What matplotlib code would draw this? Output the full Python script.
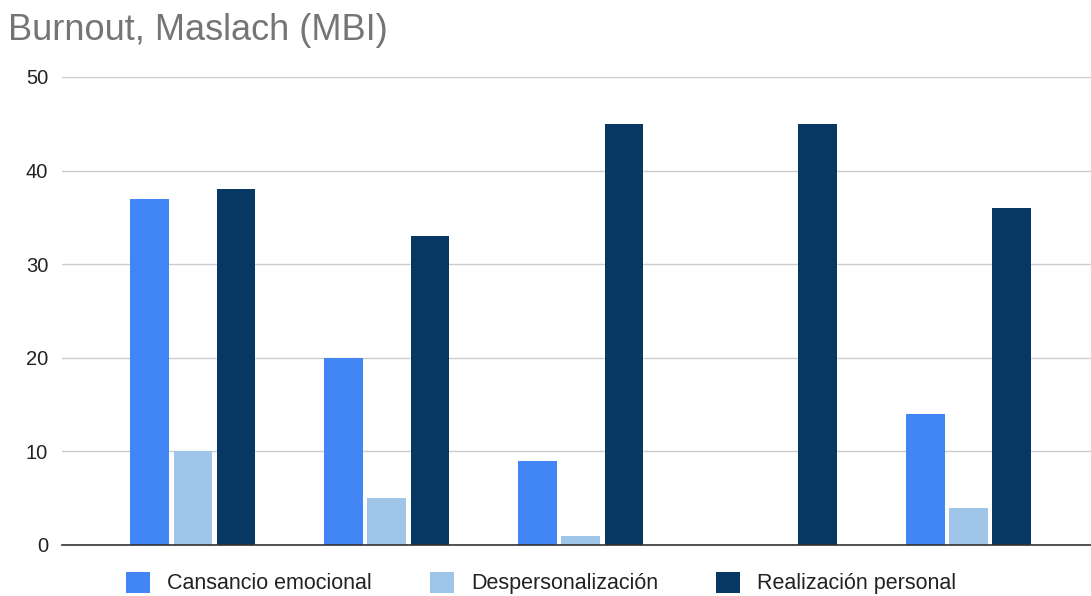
import matplotlib
matplotlib.use("Agg")
import matplotlib.pyplot as plt
import numpy as np
from matplotlib.patches import Patch

plt.rcParams['font.family'] = ['Liberation Sans', 'DejaVu Sans']

groups = ["1", "2", "3", "4", "5"]
series_names = ["Cansancio emocional", "Despersonalización", "Realización personal"]
cansancio = [37, 20, 9, 0, 14]
despersonalizacion = [10, 5, 1, 0, 4]
realizacion = [38, 33, 45, 45, 36]
colors = ["#4285F4", "#9FC5E8", "#073763"]
yticks = [0, 10, 20, 30, 40, 50]

fig = plt.figure(figsize=(10.91, 5.96), dpi=100)
ax = fig.add_axes([62 / 1091, 1 - 545 / 596, 1 - 62 / 1091, (545 - 77) / 596])

x = np.arange(len(groups))
bar_w = 0.2
step = 0.222
for i, (vals, col) in enumerate(zip([cansancio, despersonalizacion, realizacion], colors)):
    ax.bar(x + (i - 1) * step, vals, width=bar_w, color=col, zorder=3)

ax.set_xlim(-0.675, 4.63)
ax.set_ylim(0, 50)
ax.set_yticks(yticks)
ax.set_yticklabels([str(v) for v in yticks], fontsize=14.5, color="#222222")
ax.tick_params(axis="y", length=0, pad=10)
ax.set_xticks([])
ax.grid(axis="y", color="#cccccc", linewidth=1, zorder=0)
for s in ["top", "right", "left"]:
    ax.spines[s].set_visible(False)
ax.spines["bottom"].set_color("#333333")
ax.spines["bottom"].set_linewidth(1.2)
ax.spines["bottom"].set_zorder(4)

fig.text(8 / 1091, 1 - 30 / 596, "Burnout, Maslach (MBI)", fontsize=26,
         color="#757575", va="center", ha="left")

handles = [Patch(facecolor=c, edgecolor="none") for c in colors]
fig.legend(handles, series_names, loc="center", bbox_to_anchor=(0.496, 1 - 583 / 596),
           ncol=3, frameon=False, fontsize=15.5, handlelength=1.12, handleheight=1.12,
           handletextpad=0.79, columnspacing=2.7, labelcolor="#222222",
           borderaxespad=0, borderpad=0)

fig.savefig("out.png", dpi=100)
